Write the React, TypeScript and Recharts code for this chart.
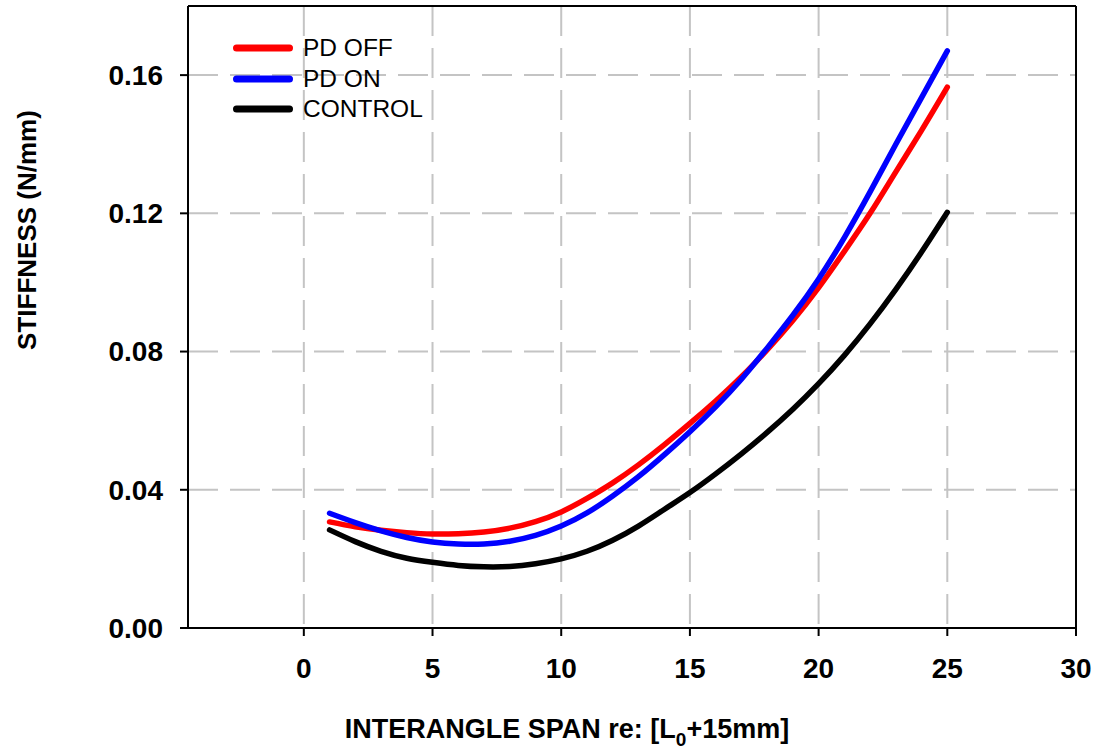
import React from "react";
import {
  LineChart,
  Line,
  XAxis,
  YAxis,
  CartesianGrid,
  ReferenceLine,
  Legend,
} from "recharts";

const spans = [1, 2, 3, 4, 5, 6, 7, 8, 9, 10, 11, 12, 13, 14, 15, 16, 17, 18, 19, 20, 21, 22, 23, 24, 25];
const pdOff = [0.0307, 0.0293, 0.0283, 0.0276, 0.0272, 0.0273, 0.0278, 0.0289, 0.0308, 0.0336, 0.0375, 0.042, 0.0472, 0.053, 0.0592, 0.0657, 0.0727, 0.0805, 0.089, 0.0985, 0.109, 0.12, 0.132, 0.144, 0.1565];
const pdOn = [0.0332, 0.0305, 0.0281, 0.0262, 0.0249, 0.0243, 0.0243, 0.0251, 0.0268, 0.0295, 0.0333, 0.0382, 0.0438, 0.0501, 0.0568, 0.064, 0.072, 0.081, 0.0905, 0.101, 0.113, 0.1262, 0.14, 0.1535, 0.167];
const control = [0.0284, 0.025, 0.0222, 0.0202, 0.019, 0.0181, 0.0177, 0.0178, 0.0186, 0.02, 0.0222, 0.0254, 0.0295, 0.0343, 0.0392, 0.0446, 0.0504, 0.0566, 0.0633, 0.0707, 0.0789, 0.088, 0.098, 0.1088, 0.1203];

const xTicks = [0, 5, 10, 15, 20, 25, 30];
const yTicks = [0, 0.04, 0.08, 0.12, 0.16];
const xDomain = [-4.5, 30];
const yDomain = [0, 0.18];

const seriesNames = ["PD OFF", "PD ON", "CONTROL"];
const seriesColors = ["#ff0000", "#0000ff", "#000000"];

const data = spans.map((s, i) => ({
  span: s,
  off: pdOff[i],
  on: pdOn[i],
  control: control[i],
}));

const FONT = "'Liberation Sans', Arial, sans-serif";

const LegendContent = (props: any) => {
  const payload = [...(props.payload || [])].sort(
    (a: any, b: any) => seriesNames.indexOf(a.value) - seriesNames.indexOf(b.value)
  );
  return (
    <div style={{ fontFamily: FONT, fontSize: 24.5, color: "#000" }}>
      {payload.map((p: any) => (
        <div key={p.value} style={{ display: "flex", alignItems: "center", height: 30.5 }}>
          <svg width={78} height={12} style={{ display: "block" }}>
            <line x1={11.5} y1={6} x2={64.5} y2={6} stroke={p.color} strokeWidth={7} strokeLinecap="round" />
          </svg>
          <span style={{ lineHeight: "26px" }}>{p.value}</span>
        </div>
      ))}
    </div>
  );
};

const XTitle = () => (
  <text x={567} y={738} textAnchor="middle" fontFamily={FONT} fontWeight="bold" fontSize={27} fill="#000">
    INTERANGLE SPAN re: [L
    <tspan fontSize={19} dy={8}>0</tspan>
    <tspan dy={-8}>+15mm]</tspan>
  </text>
);

const YTitle = () => (
  <text
    x={36}
    y={230}
    transform="rotate(-90 36 230)"
    textAnchor="middle"
    fontFamily={FONT}
    fontWeight="bold"
    fontSize={26}
    fill="#000"
  >
    STIFFNESS (N/mm)
  </text>
);

export default function App() {
  return (
    <div style={{ position: "absolute", left: 0, top: 0, background: "#fff" }}>
      <LineChart
        width={1096}
        height={751}
        data={data}
        margin={{ top: 6, right: 20, bottom: 0, left: 0 }}
      >
        <CartesianGrid
          stroke="#c4c4c4"
          strokeWidth={2}
          strokeDasharray="30 12"
          horizontalValues={[0.04, 0.08, 0.12, 0.16]}
          verticalValues={[0, 5, 10, 15, 20, 25]}
        />
        <XAxis
          dataKey="span"
          type="number"
          domain={xDomain}
          ticks={xTicks}
          allowDataOverflow
          height={123}
          tickSize={8}
          tickMargin={22}
          axisLine={{ stroke: "#000", strokeWidth: 2 }}
          tickLine={{ stroke: "#000", strokeWidth: 2 }}
          tick={{ fill: "#000", fontSize: 28, fontWeight: "bold", fontFamily: FONT }}
          label={<XTitle />}
        />
        <YAxis
          type="number"
          domain={yDomain}
          ticks={yTicks}
          allowDataOverflow
          width={188}
          tickSize={8}
          tickMargin={17}
          tickFormatter={(v: number) => v.toFixed(2)}
          axisLine={{ stroke: "#000", strokeWidth: 2 }}
          tickLine={{ stroke: "#000", strokeWidth: 2 }}
          tick={{ fill: "#000", fontSize: 28, fontWeight: "bold", fontFamily: FONT }}
          label={<YTitle />}
        />
        <ReferenceLine y={0.18} stroke="#000" strokeWidth={2} />
        <ReferenceLine x={30} stroke="#000" strokeWidth={2} />
        <Legend
          layout="vertical"
          verticalAlign="middle"
          align="center"
          content={<LegendContent />}
          wrapperStyle={{ left: 225, top: 33, width: 230, height: 92 }}
        />
        <Line
          type="natural"
          dataKey="off"
          name={seriesNames[0]}
          stroke={seriesColors[0]}
          strokeWidth={5.5}
          strokeLinecap="round"
          dot={false}
          isAnimationActive={false}
        />
        <Line
          type="natural"
          dataKey="on"
          name={seriesNames[1]}
          stroke={seriesColors[1]}
          strokeWidth={5.5}
          strokeLinecap="round"
          dot={false}
          isAnimationActive={false}
        />
        <Line
          type="natural"
          dataKey="control"
          name={seriesNames[2]}
          stroke={seriesColors[2]}
          strokeWidth={5.5}
          strokeLinecap="round"
          dot={false}
          isAnimationActive={false}
        />
      </LineChart>
    </div>
  );
}
